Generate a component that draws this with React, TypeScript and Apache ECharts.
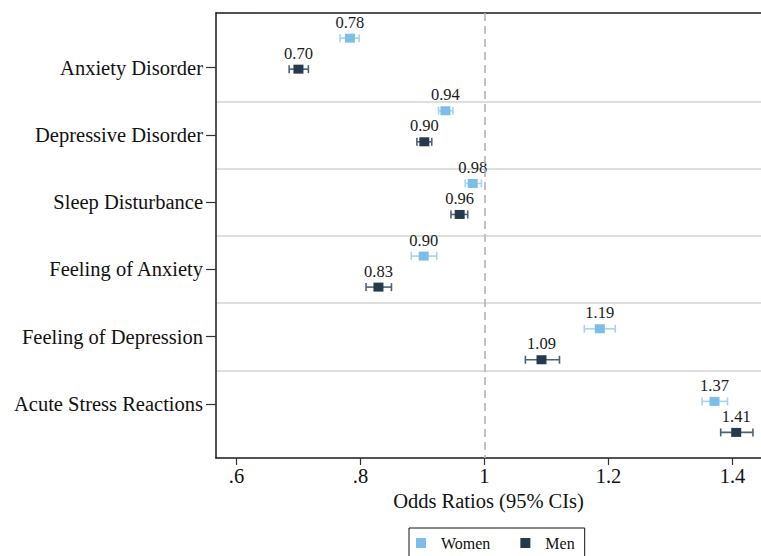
import React, { useEffect, useRef } from "react";
import * as echarts from "echarts";

const categories = [
  "Anxiety Disorder",
  "Depressive Disorder",
  "Sleep Disturbance",
  "Feeling of Anxiety",
  "Feeling of Depression",
  "Acute Stress Reactions",
];
const womenOR = [0.783, 0.937, 0.981, 0.902, 1.186, 1.371];
const womenLow = [0.767, 0.926, 0.969, 0.882, 1.161, 1.351];
const womenHigh = [0.798, 0.949, 0.995, 0.923, 1.211, 1.392];
const menOR = [0.7, 0.903, 0.96, 0.829, 1.092, 1.406];
const menLow = [0.685, 0.891, 0.946, 0.809, 1.066, 1.381];
const menHigh = [0.716, 0.915, 0.973, 0.85, 1.121, 1.433];
const xTickValues = [0.6, 0.8, 1, 1.2, 1.4];
const xTickLabels = [".6", ".8", "1", "1.2", "1.4"];

const WOMEN = "#7dbde9";
const WOMEN_CI = "#a6d3f1";
const MEN = "#263a4d";
const MEN_CI = "#4b6378";
const FONT = "'Liberation Serif', 'Times New Roman', Times, serif";
const OFFSET = 0.2134;

export default function App() {
  const ref = useRef<HTMLDivElement>(null);
  useEffect(() => {
    if (!ref.current) return;
    const chart = echarts.init(ref.current, null, { renderer: "svg" });

    const ciSeries = (name: string, low: number[], high: number[], sign: number, color: string) => ({
      type: "custom",
      name,
      xAxisIndex: 0,
      yAxisIndex: 0,
      z: 3,
      data: low.map((l, i) => [l, high[i], i + sign * OFFSET]),
      encode: { x: [0, 1], y: 2 },
      renderItem: (params: any, api: any) => {
        const y = api.value(2);
        const p1 = api.coord([api.value(0), y]);
        const p2 = api.coord([api.value(1), y]);
        const h = 4;
        const style = { stroke: color, lineWidth: 1.6 };
        return {
          type: "group",
          children: [
            { type: "line", shape: { x1: p1[0], y1: p1[1], x2: p2[0], y2: p2[1] }, style },
            { type: "line", shape: { x1: p1[0], y1: p1[1] - h, x2: p1[0], y2: p1[1] + h }, style },
            { type: "line", shape: { x1: p2[0], y1: p2[1] - h, x2: p2[0], y2: p2[1] + h }, style },
          ],
        };
      },
    });

    const pointSeries = (name: string, vals: number[], sign: number, color: string) => ({
      type: "scatter",
      name,
      xAxisIndex: 0,
      yAxisIndex: 0,
      z: 4,
      symbol: "rect",
      symbolSize: [10, 9],
      itemStyle: { color, opacity: 1 },
      data: vals.map((v, i) => [v, i + sign * OFFSET]),
      label: {
        show: true,
        position: "top",
        distance: 3,
        formatter: (p: any) => p.value[0].toFixed(2),
        fontFamily: FONT,
        fontSize: 16.5,
        color: "#1a1a1a",
      },
    });

    chart.setOption({
      animation: false,
      backgroundColor: "#ffffff",
      textStyle: { fontFamily: FONT },
      grid: [
        { left: 216, right: 0, top: 13, height: 445 },
        { left: 216, right: 0, top: 34, height: 403.5 },
      ],
      xAxis: [
        {
          type: "value",
          gridIndex: 0,
          min: 0.567,
          max: 1.446,
          splitLine: { show: false },
          axisLine: { show: true, onZero: false, lineStyle: { color: "#1a1a1a", width: 1.5 } },
          axisTick: { show: true, length: 7, customValues: xTickValues, lineStyle: { color: "#333", width: 1.2 } },
          axisLabel: {
            customValues: xTickValues,
            formatter: (v: number) => xTickLabels[xTickValues.findIndex((t) => Math.abs(t - v) < 1e-6)] ?? "",
            fontFamily: FONT,
            fontSize: 20.5,
            color: "#111",
            margin: 7,
          },
          name: "Odds Ratios (95% CIs)",
          nameLocation: "middle",
          nameGap: 32,
          nameTextStyle: { fontFamily: FONT, fontSize: 20.5, color: "#111" },
        },
        {
          type: "value",
          gridIndex: 0,
          position: "top",
          min: 0.567,
          max: 1.446,
          splitLine: { show: false },
          axisLine: { show: true, onZero: false, lineStyle: { color: "#1a1a1a", width: 1.5 } },
          axisTick: { show: false },
          axisLabel: { show: false },
        },
        {
          type: "value",
          gridIndex: 1,
          show: false,
          min: 0.567,
          max: 1.446,
        },
      ],
      yAxis: [
        {
          type: "value",
          gridIndex: 0,
          inverse: true,
          min: -0.5595,
          max: 5.5657,
          splitLine: { show: false },
          axisLine: { show: true, onZero: false, lineStyle: { color: "#1a1a1a", width: 1.5 } },
          axisTick: { show: false },
          axisLabel: { show: false },
        },
        {
          type: "category",
          gridIndex: 1,
          inverse: true,
          data: categories,
          axisLine: { show: false },
          axisTick: { show: true, alignWithLabel: true, length: 10, lineStyle: { color: "#333", width: 1.2 } },
          axisLabel: { fontFamily: FONT, fontSize: 20.5, color: "#111", margin: 13 },
          splitLine: {
            show: true,
            showMinLine: false,
            showMaxLine: false,
            lineStyle: { color: "#dedede", width: 2 },
          },
        },
      ],
      legend: {
        left: 409,
        top: 528,
        data: ["Women", "Men"],
        icon: "rect",
        itemWidth: 10,
        itemHeight: 10,
        itemGap: 30,
        borderColor: "#111",
        borderWidth: 1,
        borderRadius: 0,
        padding: [7, 10, 14, 7],
        textStyle: { fontFamily: FONT, fontSize: 16, color: "#111", padding: [0, 0, 0, 10] },
      },
      series: [
        ciSeries("Women CI", womenLow, womenHigh, -1, WOMEN_CI),
        ciSeries("Men CI", menLow, menHigh, 1, MEN_CI),
        {
          ...pointSeries("Women", womenOR, -1, WOMEN),
          markLine: {
            silent: true,
            symbol: "none",
            label: { show: false },
            lineStyle: { color: "#b3b3b3", type: [8, 5], width: 1.6 },
            data: [{ xAxis: 1 }],
          },
        },
        pointSeries("Men", menOR, 1, MEN),
      ],
    });
    return () => chart.dispose();
  }, []);
  return (
    <div
      ref={ref}
      style={{ position: "absolute", left: 0, top: 0, width: 761, height: 556, background: "#fff" }}
    />
  );
}
